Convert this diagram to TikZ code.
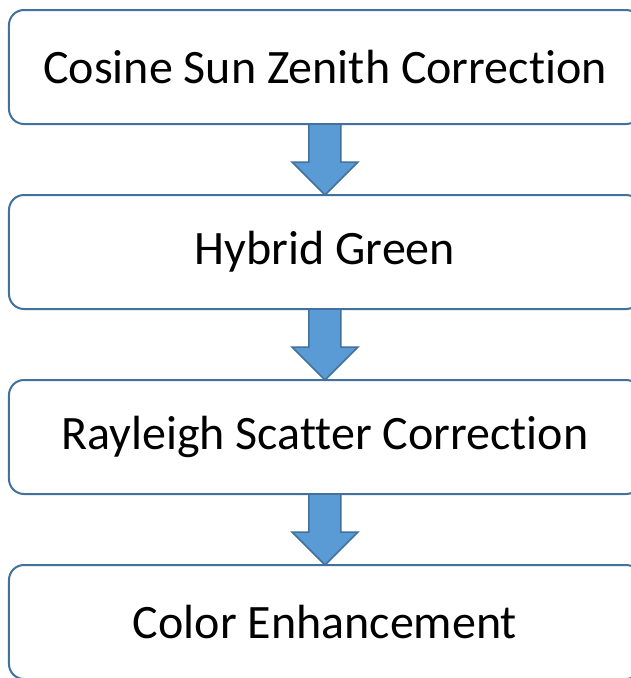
\documentclass[tikz,border=0pt]{standalone}
\usepackage{fontspec}
\setmainfont{Carlito}[Ligatures=NoCommon]
\usepackage{tikz}
\usetikzlibrary{calc,positioning}
\definecolor{boxline}{HTML}{41719C}
\definecolor{arrowfill}{HTML}{5B9BD5}

\newcommand{\stepflow}[2]{%
	\filldraw [flowarrow] ($(#1.south)+(-16pt,0)$) -- ($(#1.south)+(16pt,0)$)
		-- ($(#2.north)+(16pt,33pt)$) -- ($(#2.north)+(33pt,33pt)$) -- (#2.north)
		-- ($(#2.north)+(-33pt,33pt)$) -- ($(#2.north)+(-16pt,33pt)$) -- cycle;}

\begin{document}
\begin{tikzpicture}[
		stepbox/.style={draw=boxline, line width=2pt, fill=white, rounded corners=15pt,
			minimum width=632pt, minimum height=114pt, outer sep=0pt,
			font=\fontsize{48}{54}\selectfont},
		flowarrow/.style={draw=boxline, fill=arrowfill, line width=1.5pt, line join=miter}]
				% page frame, the boxes run off its right and bottom edges
				\clip (-325pt,67pt) rectangle (306pt,-611pt);
				\fill [white] (-325pt,67pt) rectangle (306pt,-611pt);
				\node [stepbox] (cosine) at (0,0) {Cosine Sun Zenith Correction};
				\node [stepbox, below=71pt of cosine] (hybrid) {Hybrid Green};
				\node [stepbox, below=71pt of hybrid] (rayleigh) {Rayleigh Scatter Correction};
				\node [stepbox, below=71pt of rayleigh] (color) {Color Enhancement};
				\stepflow{cosine}{hybrid}
				\stepflow{hybrid}{rayleigh}
				\stepflow{rayleigh}{color}
			\end{tikzpicture}
\end{document}
